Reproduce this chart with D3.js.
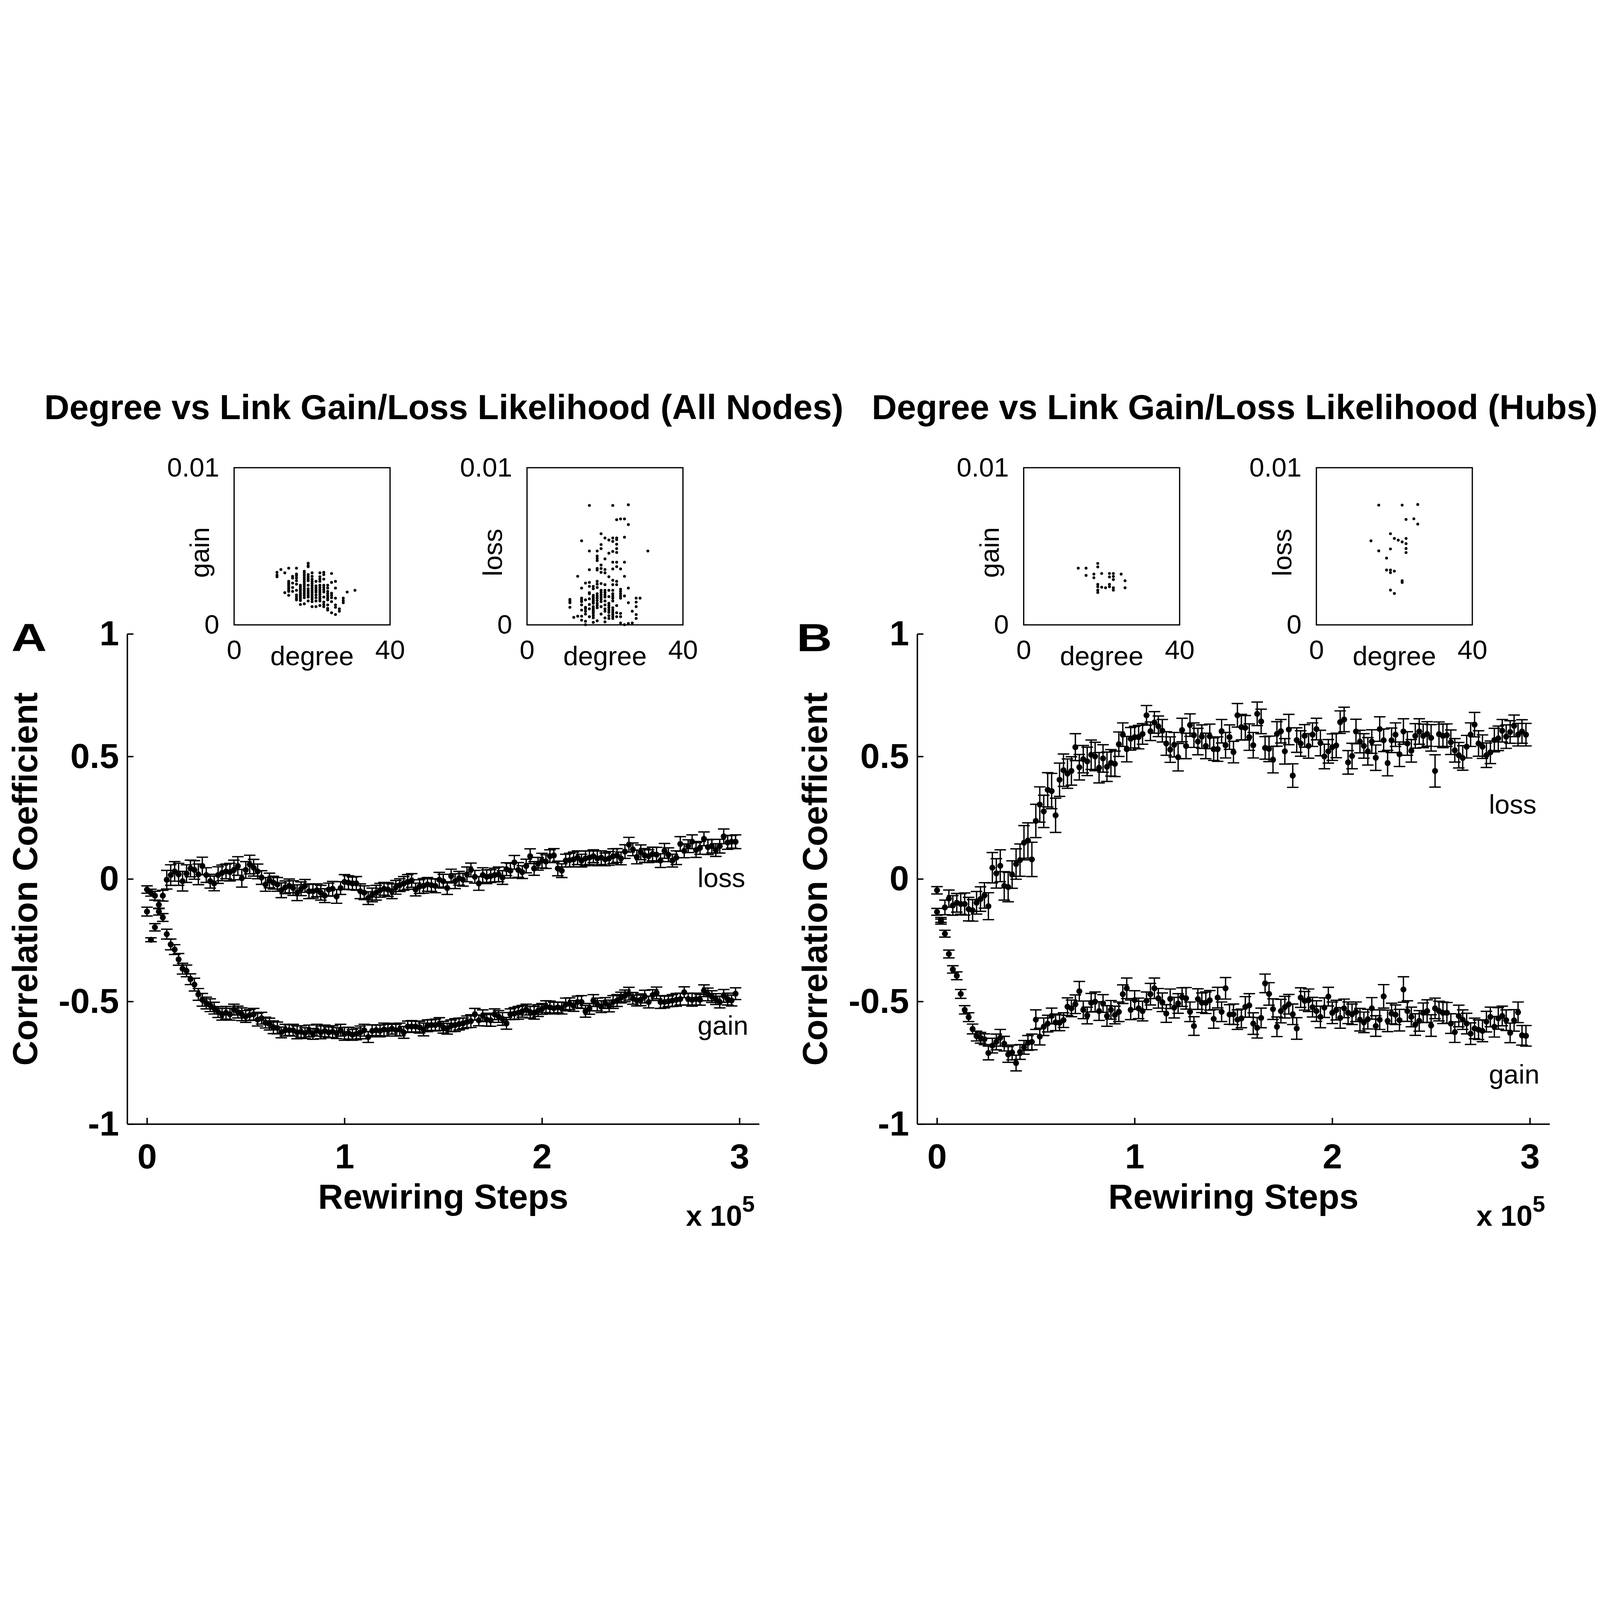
<!DOCTYPE html>
<html>
<head>
<meta charset="utf-8">
<script src="https://cdn.jsdelivr.net/npm/d3@7"></script>
<style>
  html, body { margin: 0; padding: 0; width: 100%; height: 100%; overflow: hidden; background: #fff; }
  #chart { width: 100%; height: 100%; }
  svg { display: block; font-family: "Liberation Sans", Arial, sans-serif; }
</style>
</head>
<body>
<div id="chart"></div>
<script>
// ---- data ----
// rewiring steps: one sample every 2000 steps, 150 samples
const stepSize = 2000;
const nSamples = 150;

// Panel A (all nodes): correlation coefficient
const lossA = [
  -0.043,-0.056,-0.068,-0.105,-0.068,-0.003,0.016,0.031,0.019,-0.009,
  0.022,0.043,0.037,0.019,0.053,0.016,-0.009,-0.018,0.016,0.025,
  0.031,0.028,0.037,0.053,0.003,0.037,0.059,0.046,0.031,0.006,
  -0.022,-0.006,-0.015,-0.022,-0.046,-0.034,-0.028,-0.037,-0.056,-0.040,
  -0.028,-0.050,-0.050,-0.046,-0.056,-0.068,-0.043,-0.040,-0.071,-0.037,
  -0.012,-0.015,-0.018,-0.018,-0.050,-0.056,-0.078,-0.065,-0.056,-0.046,
  -0.040,-0.043,-0.050,-0.034,-0.025,-0.018,-0.012,-0.006,-0.043,-0.031,
  -0.028,-0.022,-0.025,-0.028,-0.003,
  -0.009,-0.037,0.012,-0.009,0.003,-0.003,0.019,0.037,0.009,-0.018,
  0.016,0.009,0.012,0.016,0.019,0.006,0.040,0.034,0.068,0.037,
  0.028,0.053,0.093,0.043,0.062,0.075,0.071,0.093,0.096,0.043,
  0.034,0.075,0.077,0.080,0.087,0.075,0.084,0.087,0.093,0.084,
  0.087,0.080,0.084,0.093,0.096,0.084,0.112,0.140,0.121,0.090,
  0.109,0.096,0.093,0.102,0.099,0.075,0.115,0.099,0.075,0.087,
  0.143,0.115,0.134,0.152,0.118,0.127,0.164,0.130,0.134,0.118,
  0.134,0.174,0.149,0.152,0.152
];
const gainA = [
  -0.133,-0.248,-0.197,-0.133,-0.157,-0.225,-0.267,-0.288,-0.328,-0.366,
  -0.375,-0.409,-0.431,-0.471,-0.493,-0.506,-0.515,-0.527,-0.543,-0.552,
  -0.546,-0.552,-0.533,-0.543,-0.552,-0.561,-0.555,-0.552,-0.574,-0.568,
  -0.586,-0.592,-0.605,-0.608,-0.626,-0.617,-0.617,-0.617,-0.626,-0.623,
  -0.629,-0.620,-0.632,-0.617,-0.626,-0.620,-0.626,-0.623,-0.629,-0.617,
  -0.632,-0.629,-0.636,-0.632,-0.626,-0.617,-0.645,-0.620,-0.617,-0.620,
  -0.614,-0.617,-0.611,-0.617,-0.614,-0.626,-0.602,-0.602,-0.602,-0.605,
  -0.614,-0.599,-0.596,-0.596,-0.592,
  -0.605,-0.611,-0.599,-0.596,-0.592,-0.589,-0.583,-0.580,-0.552,-0.577,
  -0.558,-0.574,-0.577,-0.552,-0.561,-0.571,-0.589,-0.552,-0.549,-0.546,
  -0.540,-0.533,-0.543,-0.546,-0.537,-0.530,-0.521,-0.524,-0.527,-0.524,
  -0.527,-0.512,-0.509,-0.518,-0.502,-0.502,-0.540,-0.530,-0.496,-0.512,
  -0.521,-0.506,-0.518,-0.502,-0.496,-0.484,-0.477,-0.468,-0.487,-0.496,
  -0.493,-0.480,-0.502,-0.474,-0.465,-0.502,-0.502,-0.499,-0.496,-0.493,
  -0.490,-0.462,-0.490,-0.493,-0.490,-0.493,-0.456,-0.471,-0.480,-0.490,
  -0.502,-0.477,-0.490,-0.496,-0.468
];
// standard errors, in thousandths
const lossErrA = [
  15,14,18,16,22,38,42,40,45,40, 36,34,38,42,36,30,28,30,34,32,
  30,36,40,38,36,34,38,34,30,28, 28,30,26,28,30,26,28,30,32,28,
  26,30,28,26,30,28,26,30,28,26, 30,28,26,28,30,28,26,28,30,28,
  26,28,30,28,26,28,30,28,26,28, 30,28,26,28,30,28,26,28,30,28,
  26,30,28,26,28,30,28,26,28,30, 28,26,30,28,30,26,28,30,28,26,
  30,28,26,28,30,28,26,28,30,28, 26,30,28,26,30,28,26,28,30,28,
  26,28,30,26,28,30,28,26,28,30, 28,30,28,26,28,30,28,26,28,30,
  26,28,30,28,26,28,30,28,26,28
];
const gainErrA = [
  18,8,15,14,16,20,22,20,24,22, 24,22,26,24,26,24,26,24,22,24,
  26,24,22,24,26,24,22,24,26,24, 22,24,26,24,22,24,22,24,26,24,
  22,24,22,24,26,24,22,24,22,24, 26,24,22,24,26,24,22,24,22,24,
  26,24,22,24,26,24,22,24,22,24, 26,24,22,24,26,24,22,24,26,24,
  22,24,26,24,22,24,26,24,22,24, 26,24,22,24,26,24,22,24,26,24,
  22,24,26,24,22,24,26,24,22,24, 26,24,22,24,26,24,22,24,26,24,
  22,24,26,24,22,24,26,24,22,24, 26,24,22,24,26,24,22,24,26,24,
  22,24,26,24,22,24,26,24,22,24
];

// Panel B (hubs): correlation coefficient
const lossB = [
  -0.046,-0.167,-0.116,-0.080,-0.108,-0.097,-0.102,-0.102,-0.123,-0.128,
  -0.097,-0.082,-0.067,-0.111,0.046,0.023,0.054,-0.028,-0.033,0.018,
  0.061,0.077,0.148,0.157,0.080,0.237,0.304,0.276,0.364,0.359,
  0.260,0.405,0.444,0.430,0.441,0.538,0.456,0.489,0.480,0.507,
  0.500,0.454,0.492,0.458,0.474,0.470,0.550,0.589,0.530,0.572,
  0.579,0.579,0.592,0.668,0.603,0.639,0.623,0.605,0.553,0.528,
  0.548,0.497,0.608,0.543,0.628,0.587,0.561,0.581,0.543,0.582,
  0.530,0.530,0.603,0.546,0.579,0.518,
  0.668,0.620,0.617,0.579,0.546,0.674,0.643,0.535,0.531,0.487,
  0.592,0.603,0.521,0.610,0.422,0.567,0.553,0.584,0.543,0.589,
  0.612,0.555,0.500,0.521,0.538,0.545,0.640,0.651,0.476,0.502,
  0.602,0.561,0.543,0.521,0.561,0.495,0.612,0.566,0.473,0.566,
  0.589,0.509,0.602,0.553,0.523,0.584,0.602,0.584,0.592,0.576,
  0.441,0.591,0.584,0.587,0.558,0.525,0.505,0.494,0.540,0.589,
  0.630,0.553,0.540,0.505,0.517,0.567,0.574,0.605,0.581,0.600,
  0.625,0.589,0.602,0.589
];
const gainB = [
  -0.134,-0.174,-0.223,-0.306,-0.369,-0.395,-0.469,-0.534,-0.564,-0.612,
  -0.641,-0.648,-0.654,-0.710,-0.680,-0.665,-0.648,-0.672,-0.716,-0.708,
  -0.751,-0.706,-0.687,-0.669,-0.665,-0.574,-0.643,-0.603,-0.590,-0.559,
  -0.585,-0.587,-0.576,-0.521,-0.528,-0.511,-0.458,-0.534,-0.557,-0.505,
  -0.501,-0.539,-0.508,-0.559,-0.534,-0.555,-0.542,-0.470,-0.446,-0.534,
  -0.494,-0.528,-0.539,-0.497,-0.470,-0.446,-0.487,-0.503,-0.549,-0.489,
  -0.525,-0.508,-0.482,-0.487,-0.542,-0.600,-0.490,-0.505,-0.505,-0.495,
  -0.571,-0.484,-0.542,-0.446,-0.553,-0.552,
  -0.574,-0.569,-0.522,-0.516,-0.590,-0.607,-0.567,-0.426,-0.469,-0.531,
  -0.603,-0.539,-0.523,-0.511,-0.552,-0.610,-0.484,-0.497,-0.495,-0.523,
  -0.539,-0.563,-0.525,-0.480,-0.546,-0.535,-0.567,-0.528,-0.546,-0.552,
  -0.542,-0.574,-0.585,-0.572,-0.528,-0.600,-0.574,-0.479,-0.579,-0.549,
  -0.554,-0.576,-0.451,-0.539,-0.563,-0.594,-0.579,-0.546,-0.539,-0.598,
  -0.528,-0.539,-0.546,-0.546,-0.590,-0.625,-0.559,-0.574,-0.590,-0.631,
  -0.610,-0.615,-0.620,-0.582,-0.563,-0.603,-0.569,-0.559,-0.576,-0.628,
  -0.577,-0.544,-0.638,-0.640
];
const lossErrB = [
  15,10,30,35,40,38,42,45,48,44, 46,50,52,55,62,60,65,58,60,56,
  62,66,70,72,70,68,72,66,70,72, 70,68,66,60,58,55,52,56,58,60,
  58,62,56,60,54,52,50,48,52,46, 44,48,42,40,38,44,42,46,48,52,
  50,56,48,52,46,50,54,48,52,50, 46,50,48,52,50,44,48,52,50,54,
  52,48,50,46,52,54,50,48,52,62, 48,50,52,46,50,48,44,52,50,48,
  54,50,46,50,48,52,50,46,50,56, 48,52,50,46,52,50,48,50,52,48,
  46,50,52,48,50,54,66,50,48,46, 50,48,52,50,46,48,50,52,48,50,
  46,48,50,46,48,46,44,46,48,46
];
const gainErrB = [
  14,10,14,16,15,16,18,17,18,20, 20,22,22,28,30,32,34,30,32,30,
  32,30,28,30,32,40,34,36,34,32, 34,32,30,36,34,38,40,36,34,38,
  40,38,36,42,38,36,40,38,42,40, 38,42,40,36,44,42,40,38,36,40,
  42,40,38,44,40,38,42,40,44,40, 38,42,40,44,40,42,40,38,42,48,
  44,42,40,38,46,42,40,48,44,40, 42,44,40,38,46,40,42,44,40,38,
  44,40,42,38,44,42,40,46,42,40, 44,42,40,48,44,42,40,44,52,42,
  40,44,42,40,46,44,42,40,44,42, 40,42,44,40,42,44,42,40,44,42,
  40,42,44,40,42,40,44,42,40,42
];

// insets: [degree, [likelihood values x 1e-3]]
const allNodesGain = [
  [11,[3.34,3.16,3.06]], [12,[3.52]], [13,[3.31,2.05]],
  [14,[3.61,2.77,2.66,2.56,2.45,2.34,2.23,2.13,1.88]],
  [15,[3.09,2.98,2.66,2.38,2.13]],
  [16,[3.61,3.24,3.13,2.98,2.81,2.59,2.20,1.91,1.80,1.68,1.59]],
  [17,[2.52,2.41,2.30,2.20,2.09,1.98,1.88,1.77,1.66,1.55,1.30]],
  [18,[3.41,3.30,3.16,3.02,2.88,2.74,2.59,2.45,2.30,2.16,2.02,1.88,1.73,1.34]],
  [19,[3.92,3.77,3.70,3.20,3.06,2.92,2.81,2.52,2.30,2.16,2.02,1.88,1.77,1.52]],
  [20,[3.31,3.09,2.91,2.77,2.63,2.49,2.34,2.20,2.06,1.91,1.77,1.63,1.48,1.16]],
  [21,[2.77,2.48,2.34,2.20,2.09,1.91,1.73,1.52,1.16]],
  [22,[3.31,3.06,2.91,2.77,2.52,2.38,2.23,2.09,1.95,1.80,1.66,1.52,1.23]],
  [23,[3.34,3.20,2.91,2.52,2.38,2.23,2.09,1.77,1.45,1.30,1.16]],
  [24,[2.52,2.34,2.13,1.98,1.84,1.70,1.59,1.27,1.05,0.94]],
  [25,[3.27,2.70,2.02,1.88,1.73,1.48,0.77]],
  [26,[2.77,2.34,1.70,1.27,1.12,0.66]],
  [27,[1.02,0.87]], [28,[1.70,1.55,1.41]], [29,[2.09]], [31,[2.20]]
];
const allNodesLoss = [
  [11,[1.62,1.52,1.41,1.12]], [12,[0.48]], [13,[3.09,0.55]],
  [14,[5.35,2.34,1.70,1.59,1.48,1.27,0.94,0.55,0.30]],
  [15,[2.66,1.59,1.12,1.02,0.87,0.69,0.23,0.01]],
  [16,[7.60,4.70,3.51,2.70,2.45,2.05,1.98,1.66,1.30,1.02,0.52]],
  [17,[2.45,2.30,1.88,1.77,1.66,1.55,1.45,1.37,1.16,1.05,0.94,0.84,0.73,0.59,0.45,0.16]],
  [18,[4.70,4.38,4.23,4.09,3.59,3.49,2.77,2.59,2.38,1.98,1.84,1.70,1.55,1.37,1.23,1.09,0.26]],
  [19,[5.80,5.11,4.85,3.81,3.59,3.34,2.63,2.20,2.06,1.91,1.77,1.63,1.48,1.16,0.69]],
  [20,[5.53,4.20,3.52,3.31,2.56,2.20,2.06,1.91,1.77,1.52,1.27,1.02,0.87,0.44,0.19]],
  [21,[5.40,4.56,3.06,2.20,1.80,1.37,1.23,1.09,0.94,0.80,0.59,0.41]],
  [22,[7.60,5.53,5.31,4.67,3.99,3.56,2.84,2.56,2.20,1.98,1.84,1.70,1.52,1.09,0.94,0.80,0.66,0.52,0.41]],
  [23,[6.69,5.53,5.42,5.13,4.85,4.61,3.99,3.70,2.77,2.56,1.23,0.77,0.52]],
  [24,[6.74,3.56,2.27,2.13,1.98,1.84,1.70,0.73,0.52,0.12]],
  [25,[6.74,5.58,3.99,3.09,1.84,0.01]],
  [26,[7.64,6.38,2.34,1.41,0.09]],
  [27,[0.87,0.12]], [28,[1.70,1.45,1.16,0.66,0.41]], [29,[1.70]], [31,[4.70]]
];
const hubsGain = [
  [14,[3.61]], [16,[3.61,3.15]], [18,[3.23,3.00]],
  [19,[3.91,3.69,2.58,2.43,2.21,2.06]], [20,[3.27,2.40]], [21,[2.36]],
  [22,[3.27,3.05,2.58,2.43]], [23,[3.27,3.08,2.88,2.36,2.21]],
  [25,[3.23]], [26,[2.81,2.36]]
];
const hubsLoss = [
  [14,[5.35]], [16,[7.62,4.71]], [18,[4.25,3.49]],
  [19,[5.80,4.83,3.49,3.32,2.21]], [20,[5.50,3.42,2.00]], [21,[5.39]],
  [22,[7.62,5.28,2.81,2.70]], [23,[6.71,5.50,5.17,4.86,4.60]],
  [25,[6.75]], [26,[7.66,6.41]]
];

const yTicks = [-1, -0.5, 0, 0.5, 1];
const xTicks = [0, 1e5, 2e5, 3e5];
const titles = ["Degree vs Link Gain/Loss Likelihood (All Nodes)",
                "Degree vs Link Gain/Loss Likelihood (Hubs)"];

// ---- drawing ----
// drawn in a 7757 x 4252 coordinate space, scaled to fit the window
const W = 7757, H = 4252;
const svg = d3.select("#chart").append("svg")
    .attr("viewBox", "0 0 " + W + " " + H)
    .attr("preserveAspectRatio", "xMidYMid meet")
    .attr("width", "100%")
    .attr("height", "100%");
svg.append("rect").attr("width", W).attr("height", H).attr("fill", "#fff");

const steps = d3.range(nSamples).map(i => i * stepSize);

// titles
svg.selectAll(".title")
    .data(titles)
  .enter().append("text")
    .attr("class", "title")
    .attr("x", (d, i) => i === 0 ? 2152 : 5986)
    .attr("y", 280)
    .attr("text-anchor", "middle")
    .attr("font-size", 168)
    .attr("font-weight", "bold")
    .text(d => d);

function mainPanel(p) {
    const x = d3.scaleLinear().domain([-1e4, 3.1e5]).range([p.left, p.right]);
    const y = d3.scaleLinear().domain([-1, 1]).range([3697, 1321]);
    const g = svg.append("g");

    // axes (MATLAB style: ticks inside, no box)
    const yAxis = g.append("g")
        .attr("transform", "translate(" + p.left + ",0)")
        .call(d3.axisLeft(y).tickValues(yTicks).tickSizeInner(-30).tickSizeOuter(0)
              .tickPadding(40).tickFormat(d => d === 0 ? "0" : String(d)));
    const xAxis = g.append("g")
        .attr("transform", "translate(0,3697)")
        .call(d3.axisBottom(x).tickValues(xTicks).tickSizeInner(-30).tickSizeOuter(0)
              .tickPadding(95).tickFormat(d => String(d / 1e5)));
    [yAxis, xAxis].forEach(a => {
        a.attr("font-size", 170).attr("font-weight", "bold")
         .attr("font-family", "'Liberation Sans', Arial, sans-serif");
        a.selectAll("path, line").attr("stroke", "#000").attr("stroke-width", 7);
        a.selectAll("text").attr("fill", "#000");
    });

    // axis labels
    g.append("text")
        .attr("x", (p.left + p.right) / 2).attr("y", 4107)
        .attr("text-anchor", "middle").attr("font-size", 168).attr("font-weight", "bold")
        .text("Rewiring Steps");
    const exp = g.append("text")
        .attr("x", p.right - 22).attr("y", 4191)
        .attr("text-anchor", "end").attr("font-size", 140).attr("font-weight", "bold");
    exp.append("tspan").text("x 10");
    exp.append("tspan").attr("font-size", 110).attr("dy", -69).text("5");
    g.append("text")
        .attr("transform", "translate(" + (p.left - 438) + ",2509) rotate(-90)")
        .attr("text-anchor", "middle").attr("font-size", 168).attr("font-weight", "bold")
        .text("Correlation Coefficient");

    // panel letter
    g.append("text")
        .attr("x", p.letterX).attr("y", 1405)
        .attr("font-size", 190).attr("font-weight", "bold")
        .attr("textLength", 172).attr("lengthAdjust", "spacingAndGlyphs")
        .text(p.letter);

    // error bars + markers
    p.series.forEach(s => {
        const pts = steps.map((st, i) => ({ x: st, v: s.values[i], e: s.err[i] / 1000 }));
        const bars = g.append("g").attr("stroke", "#000").attr("stroke-width", 6.5);
        bars.selectAll(".eb")
            .data(pts)
          .enter().append("path")
            .attr("fill", "none")
            .attr("d", d => {
                const cx = x(d.x), y1 = y(d.v + d.e), y2 = y(d.v - d.e), c = 28;
                return "M" + cx + "," + y1 + "V" + y2 +
                       "M" + (cx - c) + "," + y1 + "H" + (cx + c) +
                       "M" + (cx - c) + "," + y2 + "H" + (cx + c);
            });
        g.append("g").selectAll("circle")
            .data(pts)
          .enter().append("circle")
            .attr("cx", d => x(d.x))
            .attr("cy", d => y(d.v))
            .attr("r", 14.5)
            .attr("fill", "#000");
    });

    // series labels
    g.selectAll(".slabel")
        .data(p.labels)
      .enter().append("text")
        .attr("x", d => d.x).attr("y", d => d.y)
        .attr("font-size", 130)
        .text(d => d.text);
}

mainPanel({
    left: 617, right: 3681, letter: "A", letterX: 55,
    series: [{ values: lossA, err: lossErrA }, { values: gainA, err: gainErrA }],
    labels: [{ text: "loss", x: 3382, y: 2549 }, { text: "gain", x: 3382, y: 3265 }]
});
mainPanel({
    left: 4447, right: 7513, letter: "B", letterX: 3862,
    series: [{ values: lossB, err: lossErrB }, { values: gainB, err: gainErrB }],
    labels: [{ text: "loss", x: 7218, y: 2192 }, { text: "gain", x: 7218, y: 3500 }]
});

function inset(left, label, groups) {
    const size = 756, top = 515, bottom = 1277;
    const x = d3.scaleLinear().domain([0, 40]).range([left, left + size]);
    const y = d3.scaleLinear().domain([0, 0.01]).range([bottom, top]);
    const g = svg.append("g");

    const ya = g.append("g").attr("transform", "translate(" + left + ",0)")
        .call(d3.axisLeft(y).tickValues([0, 0.01]).tickSize(0).tickPadding(72)
              .tickFormat(d => d === 0 ? "0" : "0.01"));
    const xa = g.append("g").attr("transform", "translate(0," + bottom + ")")
        .call(d3.axisBottom(x).tickValues([0, 40]).tickSize(0).tickPadding(73)
              .tickFormat(d3.format("d")));
    [ya, xa].forEach(a => {
        a.attr("font-size", 130).attr("font-family", "'Liberation Sans', Arial, sans-serif");
        a.select(".domain").remove();
        a.selectAll("text").attr("fill", "#000");
    });

    g.append("rect")
        .attr("x", left).attr("y", top)
        .attr("width", size).attr("height", bottom - top)
        .attr("fill", "none").attr("stroke", "#000").attr("stroke-width", 6);

    const pts = [];
    groups.forEach(([deg, vals]) => vals.forEach(v => pts.push({ deg: deg, v: v / 1000 })));
    g.append("g").selectAll("circle")
        .data(pts)
      .enter().append("circle")
        .attr("cx", d => x(d.deg))
        .attr("cy", d => y(d.v))
        .attr("r", 7)
        .attr("fill", "#000");

    g.append("text")
        .attr("x", left + size / 2).attr("y", 1472)
        .attr("text-anchor", "middle").attr("font-size", 130)
        .text("degree");
    g.append("text")
        .attr("transform", "translate(" + (left - 121) + ",926) rotate(-90)")
        .attr("text-anchor", "middle").attr("font-size", 130)
        .text(label);
}

inset(1135, "gain", allNodesGain);
inset(2555, "loss", allNodesLoss);
inset(4963, "gain", hubsGain);
inset(6382, "loss", hubsLoss);
</script>
</body>
</html>
